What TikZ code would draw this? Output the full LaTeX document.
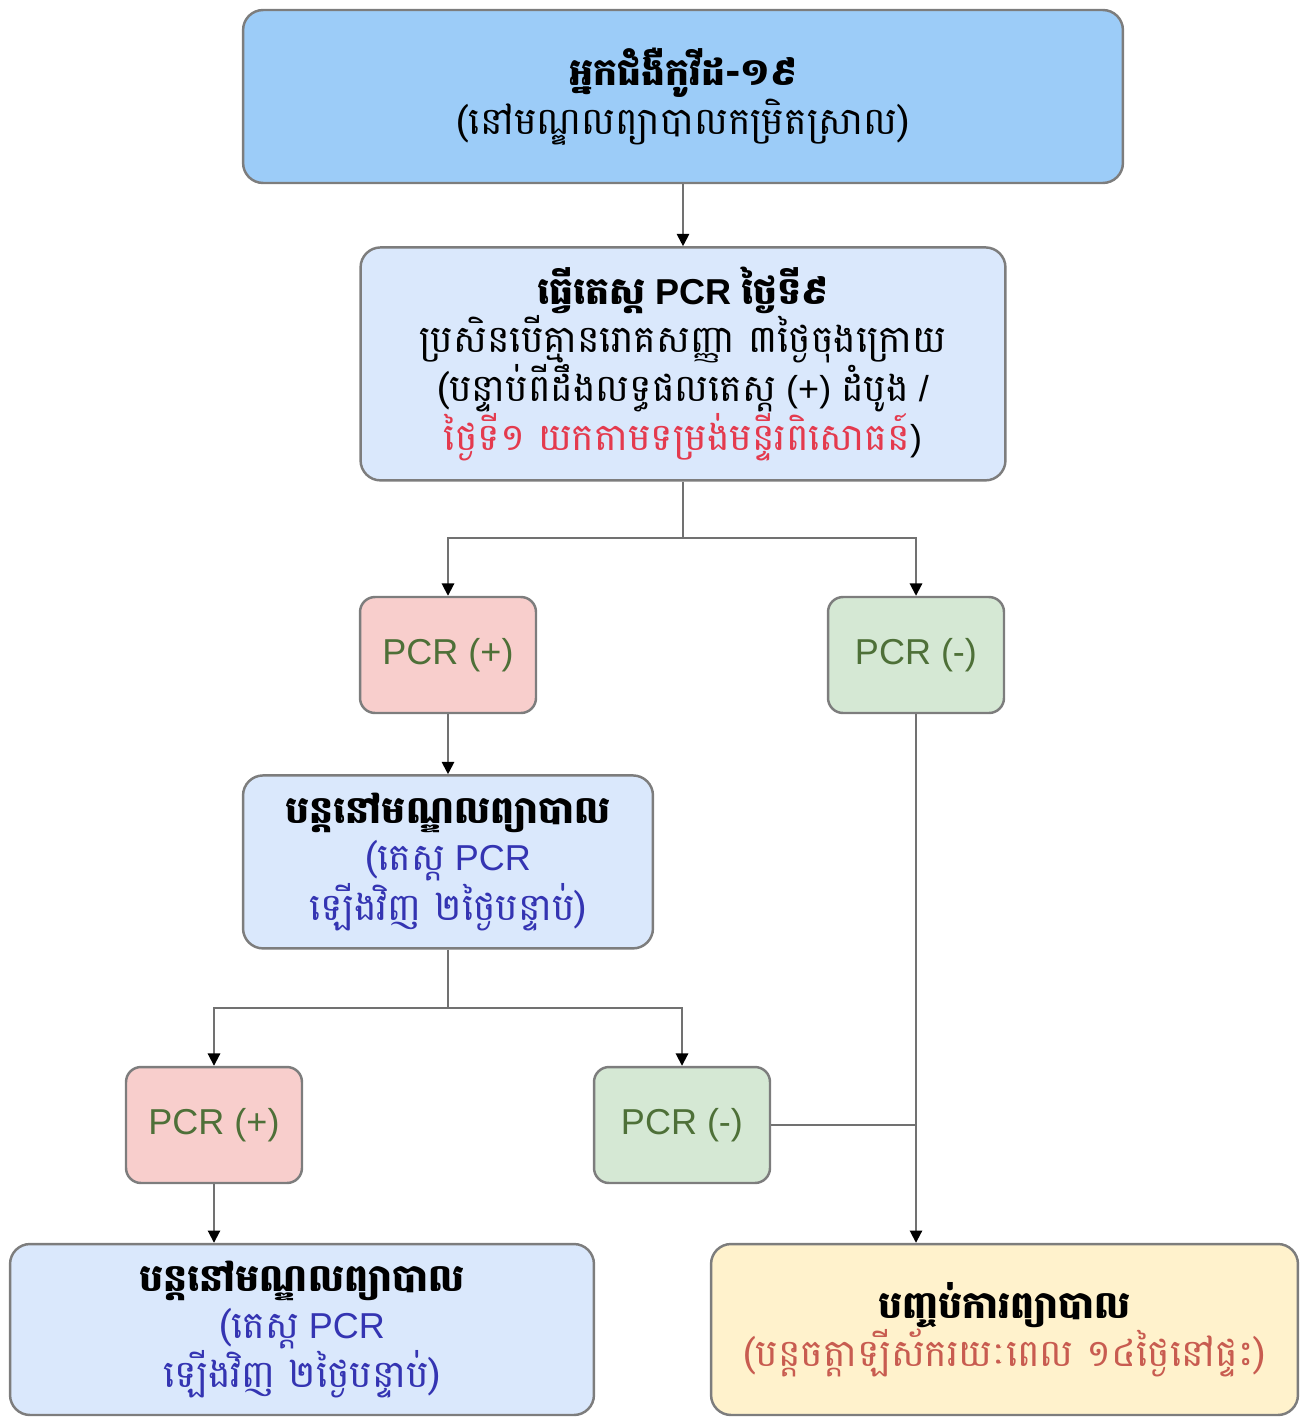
\documentclass[tikz,border=0pt]{standalone}
\usepackage{fontspec}
\usepackage{tikz}
\usetikzlibrary{positioning, arrows.meta}
\setmainfont{Liberation Sans}
\newfontfamily\kh[Script=Khmer, Scale=1.05]{Battambang}
\definecolor{topblue}{RGB}{156,204,248}
\definecolor{paleblue}{RGB}{218,232,252}
\definecolor{palepink}{RGB}{248,206,204}
\definecolor{palegreen}{RGB}{213,232,212}
\definecolor{paleyellow}{RGB}{255,242,204}
\definecolor{edgegray}{RGB}{125,125,125}
\definecolor{pcrgreen}{RGB}{78,112,56}
\definecolor{noteblue}{RGB}{52,52,178}
\definecolor{notered}{RGB}{228,58,78}
\definecolor{notebrown}{RGB}{200,92,80}
\newcommand{\khb}{\kh\bfseries}

\begin{document}
\begin{tikzpicture}[x=0.02cm, y=-0.02cm,
	box/.style={draw=edgegray, line width=1.4pt, rounded corners=0.4cm, fill=paleblue, align=center, font=\fontsize{20.5}{24}\selectfont},
	res/.style={box, rounded corners=0.3cm, minimum width=3.52cm, minimum height=2.32cm, text=pcrgreen},
	link/.style={draw=edgegray!90!black, line width=1.1pt},
	arr/.style={link, -{Triangle[length=7pt, width=7pt, color=black]}}]
	\useasboundingbox (0,0) rectangle (1309,1419);

	\node[box, fill=topblue, minimum width=17.6cm, minimum height=3.46cm] (top) at (683,96.5)
		{{\khb អ្នកជំងឺកូវីដ-១៩}\\{\kh (នៅមណ្ឌលព្យាបាលកម្រិតស្រាល)}};
	\node[box, minimum width=12.9cm, minimum height=4.66cm, below=1.24cm of top] (test)
		{{\khb ធ្វើតេស្ត} \textbf{PCR} {\khb ថ្ងៃទី៩}\\
		{\kh ប្រសិនបើគ្មានរោគសញ្ញា ៣ថ្ងៃចុងក្រោយ}\\
		{\kh (បន្ទាប់ពីដឹងលទ្ធផលតេស្ត} (+) {\kh ដំបូង} /\\
		{\color{notered}\kh ថ្ងៃទី១ យកតាមទម្រង់មន្ទីរពិសោធន៍})};
	\node[res, fill=palepink] (pos1) at (448,655) {PCR (+)};
	\node[res, fill=palegreen] (neg1) at (916,655) {PCR (-)};
	\node[box, minimum width=8.2cm, minimum height=3.46cm, below=1.2cm of pos1] (stay1)
		{{\khb បន្តនៅមណ្ឌលព្យាបាល}\\[3pt]
		{\color{noteblue}\kh (តេស្ត} {\color{noteblue}PCR}\\
		{\color{noteblue}\kh ឡើងវិញ ២ថ្ងៃបន្ទាប់)}};
	\node[res, fill=palepink] (pos2) at (214,1125) {PCR (+)};
	\node[res, fill=palegreen] (neg2) at (682,1125) {PCR (-)};
	\node[box, minimum width=11.68cm, minimum height=3.42cm] (stay2) at (302,1329.5)
		{{\khb បន្តនៅមណ្ឌលព្យាបាល}\\[3pt]
		{\color{noteblue}\kh (តេស្ត} {\color{noteblue}PCR}\\
		{\color{noteblue}\kh ឡើងវិញ ២ថ្ងៃបន្ទាប់)}};
	\node[box, fill=paleyellow, minimum width=11.74cm, minimum height=3.42cm] (done) at (1004.5,1329.5)
		{{\khb បញ្ចប់ការព្យាបាល}\\
		{\color{notebrown}\kh (បន្តចត្តាឡីស័ករយៈពេល ១៤ថ្ងៃនៅផ្ទះ)}};

	\coordinate (fork1) at (683,538);
	\coordinate (fork2) at (448,1008);

	\draw[arr] (top) -- (test);
	\draw[link] (test.south) -- (fork1);
	\draw[arr] (fork1) -| (pos1.north);
	\draw[arr] (fork1) -| (neg1.north);
	\draw[arr] (pos1) -- (stay1);
	\draw[link] (stay1.south) -- (fork2);
	\draw[arr] (fork2) -| (pos2.north);
	\draw[arr] (fork2) -| (neg2.north);
	\draw[arr] (pos2.south) -- (pos2.south |- stay2.north);
	\draw[arr] (neg1.south) -- (neg1.south |- done.north);
	\draw[link] (neg2.east) -- (neg2.east -| neg1.south);
\end{tikzpicture}
\end{document}
